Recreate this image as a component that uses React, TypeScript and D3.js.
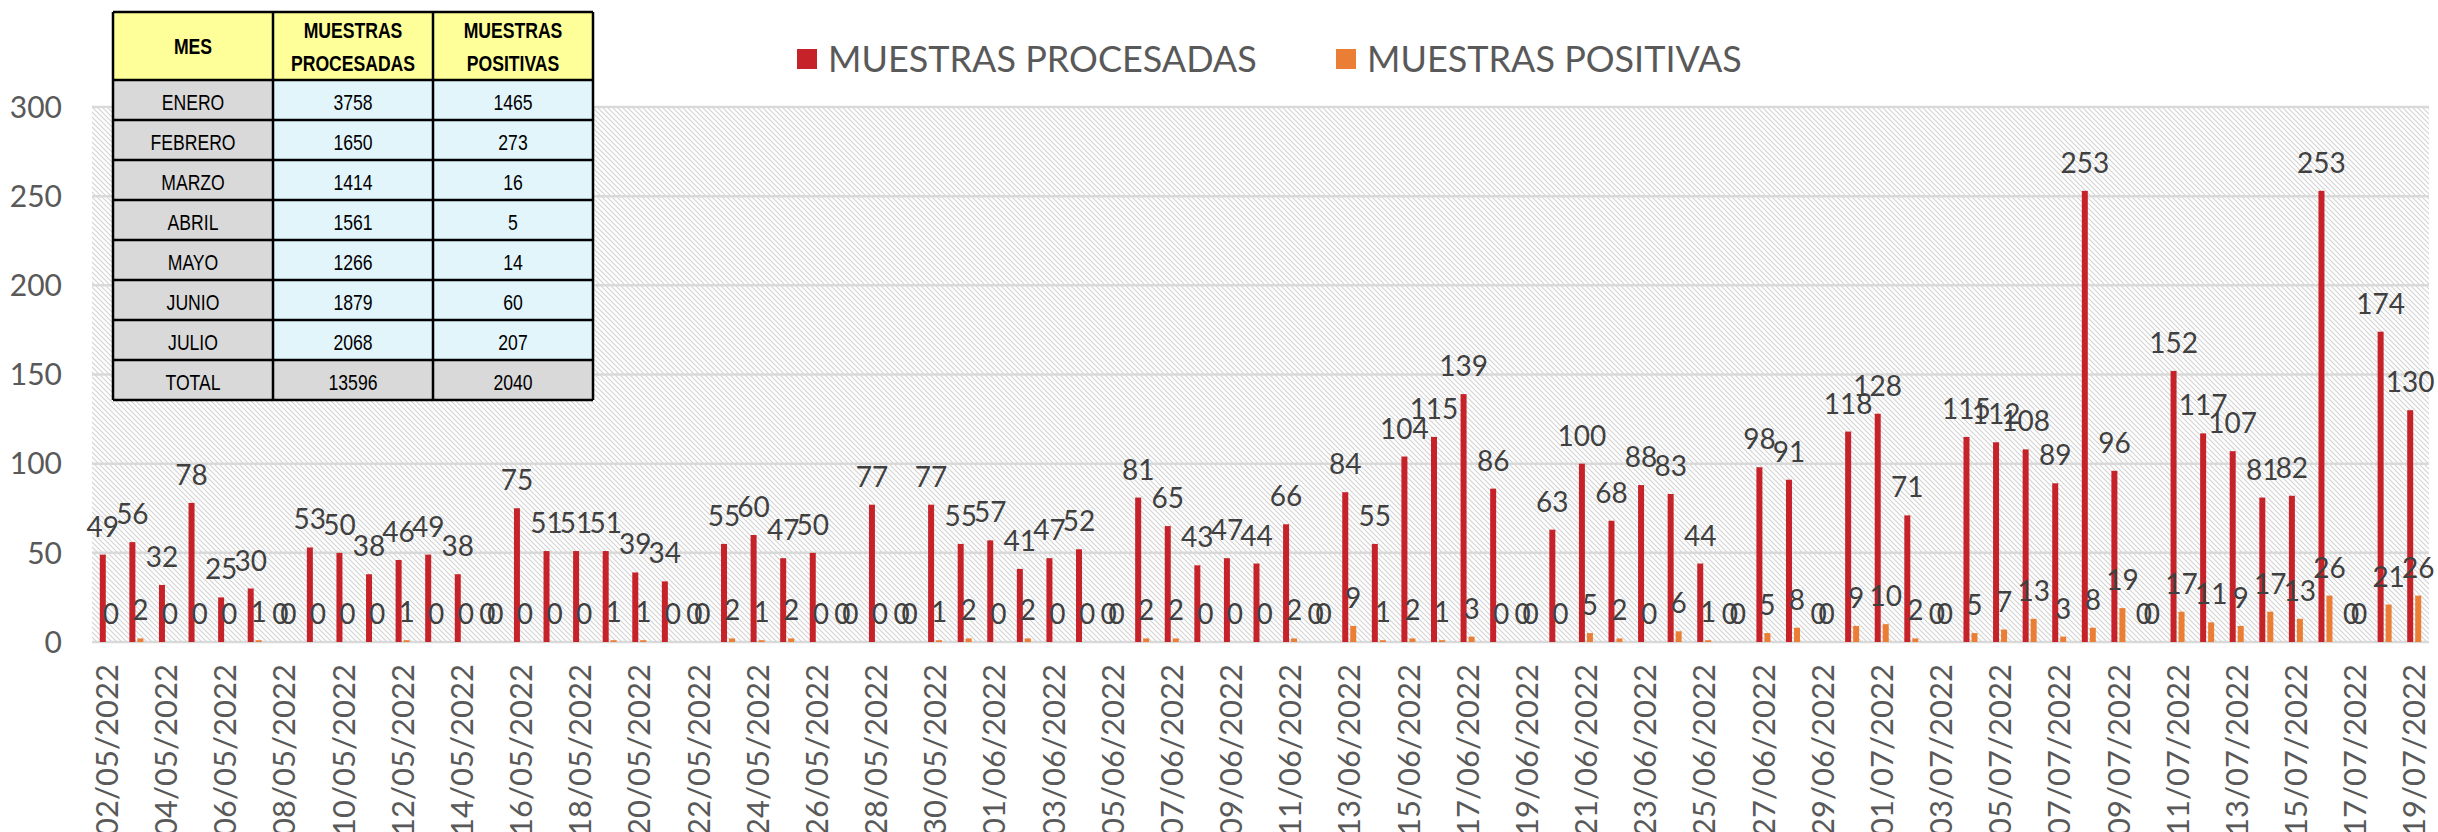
import React from "react";
import * as d3 from "d3";

// daily categories 02/05/2022 .. 19/07/2022
const fechas: string[] = [
  "02/05/2022", "03/05/2022", "04/05/2022", "05/05/2022", "06/05/2022", "07/05/2022", "08/05/2022",
  "09/05/2022", "10/05/2022", "11/05/2022", "12/05/2022", "13/05/2022", "14/05/2022", "15/05/2022",
  "16/05/2022", "17/05/2022", "18/05/2022", "19/05/2022", "20/05/2022", "21/05/2022", "22/05/2022",
  "23/05/2022", "24/05/2022", "25/05/2022", "26/05/2022", "27/05/2022", "28/05/2022", "29/05/2022",
  "30/05/2022", "31/05/2022",
  "01/06/2022", "02/06/2022", "03/06/2022", "04/06/2022", "05/06/2022", "06/06/2022", "07/06/2022",
  "08/06/2022", "09/06/2022", "10/06/2022", "11/06/2022", "12/06/2022", "13/06/2022", "14/06/2022",
  "15/06/2022", "16/06/2022", "17/06/2022", "18/06/2022", "19/06/2022", "20/06/2022", "21/06/2022",
  "22/06/2022", "23/06/2022", "24/06/2022", "25/06/2022", "26/06/2022", "27/06/2022", "28/06/2022",
  "29/06/2022", "30/06/2022",
  "01/07/2022", "02/07/2022", "03/07/2022", "04/07/2022", "05/07/2022", "06/07/2022", "07/07/2022",
  "08/07/2022", "09/07/2022", "10/07/2022", "11/07/2022", "12/07/2022", "13/07/2022", "14/07/2022",
  "15/07/2022", "16/07/2022", "17/07/2022", "18/07/2022", "19/07/2022",
];

const procesadas: number[] = [
  49, 56, 32, 78, 25, 30, 0, 53, 50, 38, 46, 49, 38, 0, 75, 51, 51, 51, 39, 34, 0, 55, 60, 47, 50, 0, 77, 0, 77, 55,
  57, 41, 47, 52, 0, 81, 65, 43, 47, 44, 66, 0, 84, 55, 104, 115, 139, 86, 0, 63, 100, 68, 88, 83, 44, 0, 98, 91, 0, 118,
  128, 71, 0, 115, 112, 108, 89, 253, 96, 0, 152, 117, 107, 81, 82, 253, 0, 174, 130,
];

const positivas: number[] = [
  0, 2, 0, 0, 0, 1, 0, 0, 0, 0, 1, 0, 0, 0, 0, 0, 0, 1, 1, 0, 0, 2, 1, 2, 0, 0, 0, 0, 1, 2,
  0, 2, 0, 0, 0, 2, 2, 0, 0, 0, 2, 0, 9, 1, 2, 1, 3, 0, 0, 0, 5, 2, 0, 6, 1, 0, 5, 8, 0, 9,
  10, 2, 0, 5, 7, 13, 3, 8, 19, 0, 17, 11, 9, 17, 13, 26, 0, 21, 26,
];

const yTicks = [0, 50, 100, 150, 200, 250, 300];

// summary table
const meses = ["ENERO", "FEBRERO", "MARZO", "ABRIL", "MAYO", "JUNIO", "JULIO", "TOTAL"];
const totProcesadas = [3758, 1650, 1414, 1561, 1266, 1879, 2068, 13596];
const totPositivas = [1465, 273, 16, 5, 14, 60, 207, 2040];

const W = 2438;
const H = 832;
const RED = "#C6222A";
const ORANGE = "#EA7E35";
const TXT = "#404040";
const AXIS_TXT = "#595959";
const FONT = "Lato, 'Noto Sans', sans-serif";
const NARROW = "'Liberation Sans', Arial, sans-serif";

// narrow-looking table text (Arial Narrow is not available, so squeeze it)
const Cell: React.FC<{ cx: number; cy: number; bold?: boolean; children: React.ReactNode }> = ({ cx, cy, bold, children }) => (
  <text
    transform={`translate(${cx},${cy}) scale(0.8,1)`}
    dy="0.36em"
    textAnchor="middle"
    fontSize={22}
    fontWeight={bold ? "bold" : "normal"}
  >
    {children}
  </text>
);

const App: React.FC = () => {
  const left = 92;
  const right = 2429;
  const top = 107;
  const bottom = 642;

  const x = d3.scaleBand<string>().domain(fechas).range([left, right]);
  const inner = d3.scaleBand<string>().domain(["proc", "pos"]).range([-7, 7]).paddingInner(0.25);
  const y = d3.scaleLinear().domain([0, 300]).range([bottom, top]);

  const center = (d: string) => (x(d) as number) + x.bandwidth() / 2;

  // table geometry
  const tLeft = 113;
  const colW = 160;
  const tTop = 12;
  const headH = 68;
  const rowH = 40;
  const tBottom = tTop + headH + rowH * meses.length;

  return (
    <svg width={W} height={H} style={{ position: "absolute", left: 0, top: 0, display: "block" }}>
      <defs>
        <pattern id="hatch" width="5" height="5" patternUnits="userSpaceOnUse">
          <path d="M0,0 L5,5 M-1,4 L1,6 M4,-1 L6,1" stroke="#d2d2d2" strokeWidth={1.1} />
        </pattern>
      </defs>
      <rect x={0} y={0} width={W} height={H} fill="#fff" />

      {/* plot background */}
      <rect x={left} y={top} width={right - left} height={bottom - top} fill="url(#hatch)" />

      {/* gridlines */}
      {yTicks.map(t => (
        <line key={t} x1={left} x2={right} y1={y(t)} y2={y(t)} stroke="#d9d9d9" strokeWidth={2.5} />
      ))}

      {/* y axis labels */}
      {yTicks.map(t => (
        <text key={t} x={62} y={y(t)} dy="0.36em" textAnchor="end" fontSize={30} fontFamily={FONT} fill={AXIS_TXT}>
          {t}
        </text>
      ))}

      {/* bars */}
      {fechas.map((d, i) => (
        <g key={d}>
          <rect
            x={center(d) + (inner("proc") as number)}
            y={y(procesadas[i])}
            width={inner.bandwidth()}
            height={bottom - y(procesadas[i])}
            fill={RED}
          />
          <rect
            x={center(d) + (inner("pos") as number)}
            y={y(positivas[i])}
            width={inner.bandwidth()}
            height={bottom - y(positivas[i])}
            fill={ORANGE}
          />
        </g>
      ))}

      {/* data labels */}
      {fechas.map((d, i) => (
        <text
          key={"p" + d}
          x={center(d) + (inner("proc") as number) + inner.bandwidth() / 2}
          y={y(procesadas[i]) - 18}
          textAnchor="middle"
          fontSize={28}
          fontFamily={FONT}
          fill={TXT}
        >
          {procesadas[i]}
        </text>
      ))}
      {fechas.map((d, i) => (
        <text
          key={"q" + d}
          x={center(d) + (inner("pos") as number) + inner.bandwidth() / 2}
          y={y(positivas[i]) - 18}
          textAnchor="middle"
          fontSize={28}
          fontFamily={FONT}
          fill={TXT}
        >
          {positivas[i]}
        </text>
      ))}

      {/* x axis labels, every other day */}
      {fechas
        .filter((_, i) => i % 2 === 0)
        .map(d => (
          <text
            key={"x" + d}
            transform={`translate(${center(d)},664) rotate(-90)`}
            dy="0.36em"
            textAnchor="end"
            fontSize={31}
            fontFamily={FONT}
            fill={AXIS_TXT}
          >
            {d}
          </text>
        ))}

      {/* legend */}
      <rect x={797} y={49} width={20} height={20} fill={RED} />
      <text x={828} y={72} fontSize={36} fontFamily={FONT} fill={AXIS_TXT}>
        MUESTRAS PROCESADAS
      </text>
      <rect x={1336} y={49} width={20} height={20} fill={ORANGE} />
      <text x={1367} y={72} fontSize={36} fontFamily={FONT} fill={AXIS_TXT}>
        MUESTRAS POSITIVAS
      </text>

      {/* summary table */}
      <g fontFamily={NARROW} fill="#000">
        <rect x={tLeft} y={tTop} width={colW * 3} height={headH} fill="#FFFF99" />
        {meses.map((m, i) => {
          const ry = tTop + headH + i * rowH;
          const cy = ry + rowH / 2 + 2;
          const total = i === meses.length - 1;
          return (
            <g key={m}>
              <rect x={tLeft} y={ry} width={colW} height={rowH} fill="#D9D9D9" />
              <rect x={tLeft + colW} y={ry} width={colW * 2} height={rowH} fill={total ? "#D9D9D9" : "#E2F5FB"} />
              <Cell cx={tLeft + colW / 2} cy={cy}>{m}</Cell>
              <Cell cx={tLeft + colW * 1.5} cy={cy}>{totProcesadas[i]}</Cell>
              <Cell cx={tLeft + colW * 2.5} cy={cy}>{totPositivas[i]}</Cell>
            </g>
          );
        })}
        <Cell cx={tLeft + colW / 2} cy={tTop + headH / 2} bold>MES</Cell>
        {["PROCESADAS", "POSITIVAS"].map((s, k) => (
          <g key={s}>
            <Cell cx={tLeft + colW * (1.5 + k)} cy={tTop + 18} bold>MUESTRAS</Cell>
            <Cell cx={tLeft + colW * (1.5 + k)} cy={tTop + 51} bold>{s}</Cell>
          </g>
        ))}
        {/* grid lines of table */}
        {d3.range(meses.length + 2).map(r => {
          const ly = r === 0 ? tTop : tTop + headH + (r - 1) * rowH;
          return <line key={"h" + r} x1={tLeft} x2={tLeft + colW * 3} y1={ly} y2={ly} stroke="#000" strokeWidth={2.5} />;
        })}
        {d3.range(4).map(c => (
          <line key={"v" + c} x1={tLeft + c * colW} x2={tLeft + c * colW} y1={tTop} y2={tBottom} stroke="#000" strokeWidth={2.5} />
        ))}
      </g>
    </svg>
  );
};

export default App;
